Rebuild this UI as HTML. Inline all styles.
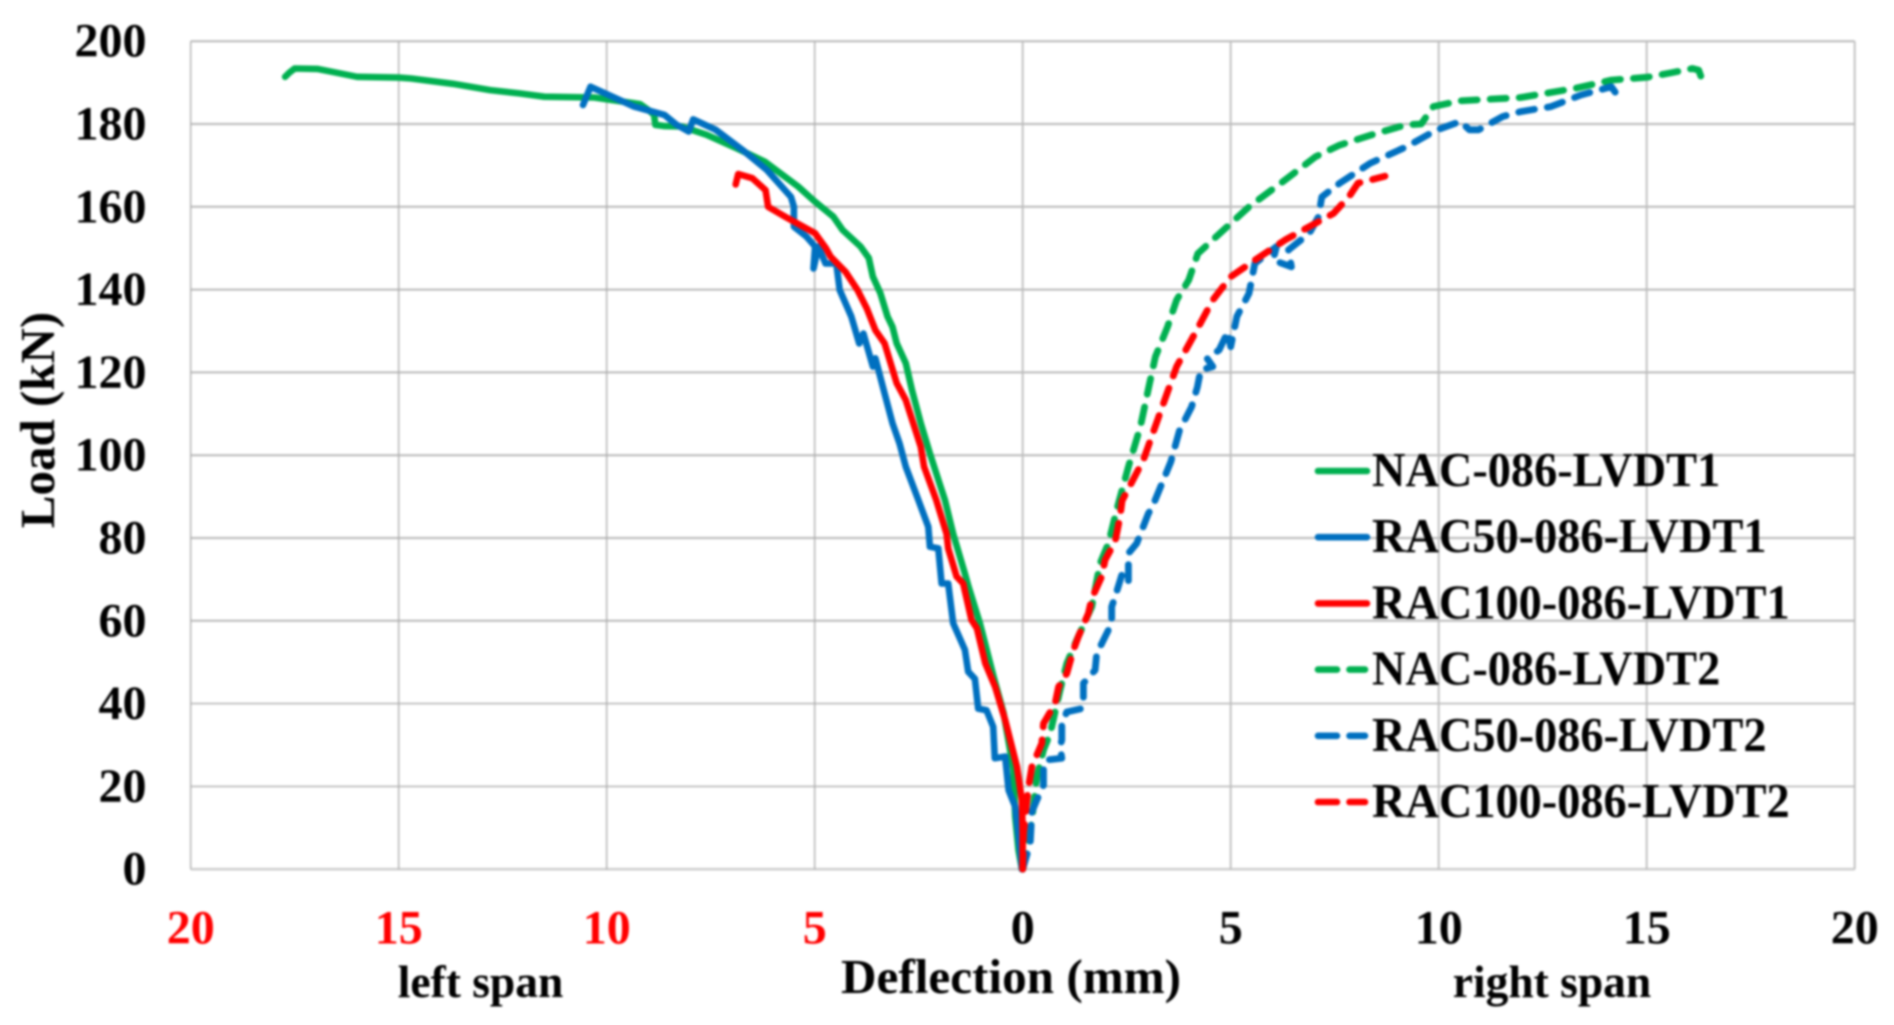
<!DOCTYPE html>
<html lang="en">
<head>
<meta charset="utf-8">
<title>Load versus deflection</title>
<style>
html,body{margin:0;padding:0;background:#fff;width:1894px;height:1025px;overflow:hidden}
svg{display:block;filter:blur(0.95px)}
text{font-family:"Liberation Serif",serif;font-weight:bold;fill:#000}
</style>
</head>
<body>
<svg id="chart" xmlns="http://www.w3.org/2000/svg" width="1894" height="1025" viewBox="0 0 1894 1025">
  <rect x="0" y="0" width="1894" height="1025" fill="#fff"/>
  <g id="grid"></g>
  <g id="series"></g>
  <g id="yticks"></g>
  <g id="xticks"></g>
  <text transform="translate(54 420) rotate(-90)" text-anchor="middle" font-size="49">Load (kN)</text>
  <text x="1011" y="993" text-anchor="middle" font-size="49.2">Deflection (mm)</text>
  <text x="480.5" y="997" text-anchor="middle" font-size="45.5">left span</text>
  <text x="1552" y="997" text-anchor="middle" font-size="45.5">right span</text>
  <g id="legend"></g>
</svg>
<script>
// Axis tick values
const yTickValues = [0, 20, 40, 60, 80, 100, 120, 140, 160, 180, 200];
const xTickValues = [-20, -15, -10, -5, 0, 5, 10, 15, 20];

// Series: deflection in mm (negative = left span), load in kN
const nac1Deflection = [-0.02,-0.1,-0.18,-0.22,-0.46,-0.7,-1.03,-1.3,-1.39,-1.67,-1.87,-2.0,-2.23,-2.45,-2.66,-2.81,-3.03,-3.13,-3.25,-3.42,-3.6,-3.7,-3.9,-4.33,-4.55,-5.0,-5.4,-6.2,-6.87,-7.6,-8.2,-8.6,-8.83,-8.86,-9.0,-9.2,-10.3,-11.5,-12.1,-12.8,-13.7,-14.7,-15.0,-16.0,-16.6,-16.96,-17.5,-17.63,-17.73];
const nac1Load = [0,4.6,12.7,24,37.7,46.5,59.4,68.2,71.4,81,89.2,93.2,100.4,107.7,115.7,122.2,127,131,133.5,139.1,143.1,147.6,150.4,154.4,157.6,161.3,164.9,170.9,174.1,177.4,179.4,179.5,179.8,182.2,183.4,184.8,186.4,186.6,187.4,188.2,189.7,191,191.2,191.4,192.6,193.3,193.4,192.4,191.4];

const rac50d1Deflection = [-0.02,-0.06,-0.18,-0.34,-0.42,-0.67,-0.71,-0.87,-1.07,-1.15,-1.31,-1.39,-1.67,-1.79,-1.95,-2.03,-2.23,-2.27,-2.51,-2.81,-2.96,-3.13,-3.32,-3.54,-3.6,-3.83,-3.93,-4.12,-4.4,-4.48,-4.74,-4.91,-5.03,-4.99,-5.2,-5.5,-5.5,-5.57,-6.15,-6.73,-7.38,-7.92,-8.03,-8.32,-8.61,-9.34,-10.39,-10.57];
const rac50d1Load = [0,4.6,15.1,19.1,27.2,26.8,34.4,38.4,38.8,46,47.7,53,59.4,69,69,77.5,77.9,82.7,89.2,97.2,102.8,107.7,114.9,123.4,121.4,129.4,127,133.5,139.9,146.3,146.3,150.4,145.1,150.4,152.8,155.2,160,162.4,168.9,173.7,178.6,181.1,178.2,179.8,182.2,184.2,189,184.6];

const rac100d1Deflection = [0,0,-0.02,-0.14,-0.42,-0.66,-0.9,-1.1,-1.23,-1.43,-1.59,-1.79,-1.83,-2.08,-2.37,-2.45,-2.81,-3.03,-3.32,-3.54,-3.75,-3.97,-4.26,-4.62,-4.73,-4.99,-5.71,-6.12,-6.18,-6.5,-6.84,-6.9];
const rac100d1Load = [0,8.7,16.7,24.8,36,44,49.7,58.2,60.2,69,70.7,77.5,81,89.2,97.2,102,113.3,117.4,127,130.2,135.5,139.9,144.3,148,150,153.6,157.6,160,164,166.9,167.9,165.4];

const nac2Deflection = [0,0.14,0.22,0.34,0.5,0.66,0.9,1.06,1.3,1.66,1.86,2.06,2.26,2.54,2.83,3.05,3.19,3.48,3.7,3.99,4.21,5.0,5.44,6.31,7.04,7.62,8.49,9.22,9.58,9.87,10.52,11.97,13.28,14.15,15.02,15.6,16.1,16.25,16.3];
const nac2Load = [0,6.2,11.9,22.3,28.8,32.8,43.3,49.7,55.4,63.4,73.9,78.7,86.8,97.2,106.9,117.4,123.8,131,137.5,142.3,148.7,156,160,166.5,172.1,174.9,177.7,179.8,180,184.2,185.6,186.4,188.6,190.6,191.3,192.4,193.4,193,191.6];

const rac50d2Deflection = [0,0.18,0.22,0.34,0.5,0.5,0.58,0.94,0.9,0.94,0.94,1.06,1.42,1.46,1.46,1.74,1.78,1.9,2.14,2.14,2.22,2.38,2.54,2.54,2.74,3.02,3.12,3.56,3.77,4.06,4.2,4.28,4.57,4.43,4.72,4.93,5.0,5.15,5.44,5.58,6.1,6.02,6.46,6.39,6.89,7.11,7.19,7.62,8.35,9.22,9.94,10.52,10.74,10.96,11.54,11.97,12.7,13.42,14.15,14.32];
const rac50d2Load = [0,6.2,13.9,16.7,20.3,24,26.4,26.8,29.6,31.2,35.2,38,38.8,41.3,44.9,48.1,52.1,54.5,59.4,63.4,65.8,71,69,76.3,78.7,85.9,87.6,98.4,106,111.7,116.5,120.6,121.4,123.4,125.4,129.8,126.2,133.5,139.1,146.3,150.4,147.1,145.5,149.6,153.6,157.6,162.4,165.7,170.5,174.5,178.5,180.6,178.6,178.6,181.8,183,184.2,187,189,186.6];

const rac100d2Deflection = [0,0.02,0.1,0.14,0.22,0.46,0.5,0.78,0.86,1.06,1.22,1.34,1.58,1.66,1.9,1.98,2.22,2.34,2.39,2.9,3.27,3.7,4.14,4.57,5.0,5.58,6.31,7.47,7.84,8.06,8.71];
const rac100d2Load = [0,8.7,16.7,19.9,24.8,30.4,35.2,40,44,47.3,53,56.2,61.8,65.4,70.7,74.7,79.1,85.1,89,98.8,109.3,121.4,129.4,137.5,143.1,147.1,152,158.4,162.4,165.7,167.4];

const seriesColors = { nac: '#00B050', rac50: '#0070C0', rac100: '#FF0000' };

const NS = 'http://www.w3.org/2000/svg';
function xScale(d) { return 1022.7 + d * 41.6; }
function yScale(v) { return 869.2 - v * 4.14; }
function tickText(v) { return String(Math.abs(v)); }
function pathFrom(xs, ys) {
  return xs.map(function (d, i) {
    return (i ? 'L' : 'M') + xScale(d).toFixed(1) + ' ' + yScale(ys[i]).toFixed(1);
  }).join(' ');
}
function node(tag, attrs, parent) {
  const el = document.createElementNS(NS, tag);
  Object.keys(attrs).forEach(function (k) { el.setAttribute(k, attrs[k]); });
  parent.appendChild(el);
  return el;
}

const grid = document.getElementById('grid');
yTickValues.forEach(function (v) {
  const thick = v === 0 ? 2.6 : (v >= 60 ? 2 : 1.6);
  const line = node('line', { x1: xScale(-20), x2: xScale(20), y1: yScale(v), y2: yScale(v), stroke: v === 0 ? '#cfcfcf' : '#b9b9b9', 'stroke-width': thick }, grid);
  
  
});
xTickValues.forEach(function (d) {
  const line = node('line', { x1: xScale(d), x2: xScale(d), y1: yScale(0), y2: yScale(200), stroke: d < 0 ? '#ababab' : '#bdbdbd', 'stroke-width': d < 0 ? 1.3 : 1.8 }, grid);
  
  
});

const yticks = document.getElementById('yticks');
yTickValues.forEach(function (v) {
  const t = node('text', { x: 146.5, y: yScale(v) + 15.5, 'text-anchor': 'end', 'font-size': 48 }, yticks);
  t.textContent = tickText(v);
  
  
});
const xticks = document.getElementById('xticks');
xTickValues.forEach(function (d) {
  const t = node('text', { x: xScale(d), y: 943.5, 'text-anchor': 'middle', 'font-size': 48 }, xticks);
  t.textContent = tickText(d);
  t.style.fill = d < 0 ? '#FF0000' : '#000000';
  
  
});

const seriesGroup = document.getElementById('series');
function drawSeries(xs, ys, color, dashed) {
  const attrs = { d: pathFrom(xs, ys), fill: 'none', stroke: color, 'stroke-width': dashed ? 6.8 : 6.6, 'stroke-linejoin': 'round', 'stroke-linecap': 'round' };
  if (dashed) attrs['stroke-dasharray'] = '16 13';
  return node('path', attrs, seriesGroup);
}
const lineNac1 = drawSeries(nac1Deflection, nac1Load, seriesColors.nac, false);


const lineRac50d1 = drawSeries(rac50d1Deflection, rac50d1Load, seriesColors.rac50, false);


const lineRac100d1 = drawSeries(rac100d1Deflection, rac100d1Load, seriesColors.rac100, false);


const lineNac2 = drawSeries(nac2Deflection, nac2Load, seriesColors.nac, true);


const lineRac50d2 = drawSeries(rac50d2Deflection, rac50d2Load, seriesColors.rac50, true);


const lineRac100d2 = drawSeries(rac100d2Deflection, rac100d2Load, seriesColors.rac100, true);



const legend = document.getElementById('legend');
const legendLabels = ['NAC-086-LVDT1', 'RAC50-086-LVDT1', 'RAC100-086-LVDT1', 'NAC-086-LVDT2', 'RAC50-086-LVDT2', 'RAC100-086-LVDT2'];
const legendColors = [seriesColors.nac, seriesColors.rac50, seriesColors.rac100, seriesColors.nac, seriesColors.rac50, seriesColors.rac100];
legendLabels.forEach(function (label, i) {
  const rowY = 471 + i * 66.2;
  const dashed = i >= 3;
  const attrs = { x1: 1318, x2: dashed ? 1365 : 1367, y1: rowY, y2: rowY, stroke: legendColors[i], 'stroke-width': 6.6, 'stroke-linecap': 'round' };
  if (dashed) attrs['stroke-dasharray'] = '19 12.5';
  const swatch = node('line', attrs, legend);
  
  
  const t = node('text', { transform: 'translate(1372 ' + (rowY + 15) + ') scale(0.953 1)', 'font-size': 48.6 }, legend);
  t.textContent = label;
  
  
});
</script>
</body>
</html>
